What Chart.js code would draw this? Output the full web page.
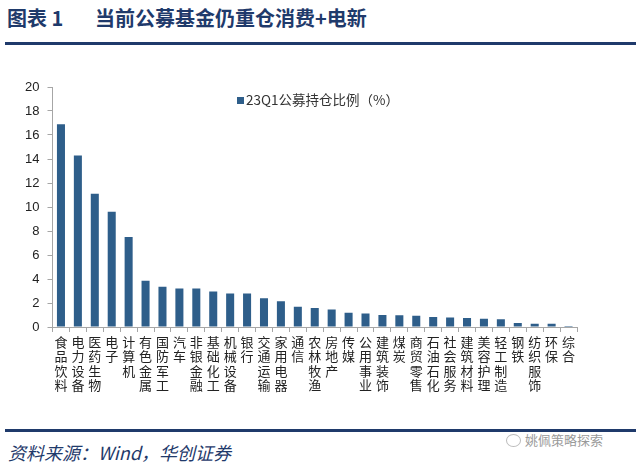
<!DOCTYPE html>
<html><head><meta charset="utf-8">
<script src="https://cdn.jsdelivr.net/npm/chart.js@4/dist/chart.umd.min.js"></script>
<style>
html,body{margin:0;padding:0;background:#fff;width:640px;height:469px;overflow:hidden;position:relative;font-family:"Noto Sans CJK SC",sans-serif;}
#title{position:absolute;left:7px;top:4px;font-size:20px;font-weight:bold;color:#1F3A6B;white-space:nowrap;line-height:28px;}
#title .t2{position:absolute;left:88px;top:0;}
#line1{position:absolute;left:5px;top:42px;width:631px;height:3px;background:#1F3A6B;}
#line2{position:absolute;left:5px;top:429px;width:631px;height:3px;background:#1F3A6B;}
#foot{position:absolute;left:8px;top:439px;font-size:18px;font-style:italic;color:#1F3A6B;line-height:26px;font-family:"Noto Sans CJK SC",serif;}
#wm{position:absolute;left:525px;top:431px;font-size:13px;color:#9a9a9a;line-height:18px;}
#wmi{position:absolute;left:506px;top:434px;width:13px;height:11px;border:1px solid #bbb;border-radius:50%;}
#legend{position:absolute;left:237px;top:90px;font-size:13.5px;color:#333;line-height:18px;white-space:nowrap;}
#legend span{display:inline-block;width:7px;height:7px;background:#2E5E8A;margin-right:2px;vertical-align:1px;}
#wrap{position:absolute;left:0;top:60px;width:640px;height:340px;}
</style></head>
<body>
<div id="title"><span>图表 1</span><span class="t2">当前公募基金仍重仓消费+电新</span></div>
<div id="line1"></div>
<div id="wrap"><canvas id="c" width="640" height="340"></canvas></div>
<div id="legend"><span></span>23Q1公募持仓比例（%）</div>
<div id="line2"></div>
<div id="foot">资料来源：Wind，华创证券</div>
<div id="wmi"></div>
<div id="wm">姚佩策略探索</div>
<script>
const categories = ["食品饮料","电力设备","医药生物","电子","计算机","有色金属","国防军工","汽车","非银金融","基础化工","机械设备","银行","交通运输","家用电器","通信","农林牧渔","房地产","传媒","公用事业","建筑装饰","煤炭","商贸零售","石油石化","社会服务","建筑材料","美容护理","轻工制造","钢铁","纺织服饰","环保","综合"];
const holdings = [16.9,14.3,11.1,9.6,7.5,3.85,3.35,3.2,3.2,2.95,2.8,2.8,2.4,2.15,1.68,1.58,1.45,1.18,1.12,1.0,0.97,0.94,0.84,0.79,0.75,0.68,0.64,0.33,0.28,0.28,0.08];
const seriesName = "23Q1公募持仓比例（%）";
const yTicks = {min:0, max:20, step:2};

Chart.defaults.animation = false;
new Chart(document.getElementById('c'), {
  type: 'bar',
  data: {
    labels: categories.map(s => s.split('')),
    datasets: [{label: seriesName, data: holdings, backgroundColor: '#2E5E8A', barPercentage: 0.5, categoryPercentage: 0.95}]
  },
  options: {
    responsive: false,
    animation: false,
    layout: {padding: {left: 0, right: 63, top: 27, bottom: 0}},
    plugins: {legend: {display: false}, tooltip: {enabled: false}},
    scales: {
      x: {
        grid: {display: true, drawOnChartArea: false, offset: true, tickLength: 5, color: '#a6a6a6'},
        border: {color: '#a6a6a6'},
        ticks: {autoSkip: false, maxRotation: 0, minRotation: 0, padding: 3, color: '#222',
          font: {family: '"Noto Sans CJK SC"', size: 13, lineHeight: 1.1}},
        afterFit: s => { s.height = 73; }
      },
      y: {
        min: yTicks.min, max: yTicks.max,
        grid: {display: true, drawOnChartArea: false, tickLength: 5, color: '#a6a6a6'},
        border: {color: '#a6a6a6'},
        ticks: {stepSize: yTicks.step, padding: 8, color: '#222', font: {family: '"Liberation Sans", Arial', size: 13}},
        afterFit: s => { s.width = 52.5; }
      }
    }
  }
});
</script>
</body></html>
